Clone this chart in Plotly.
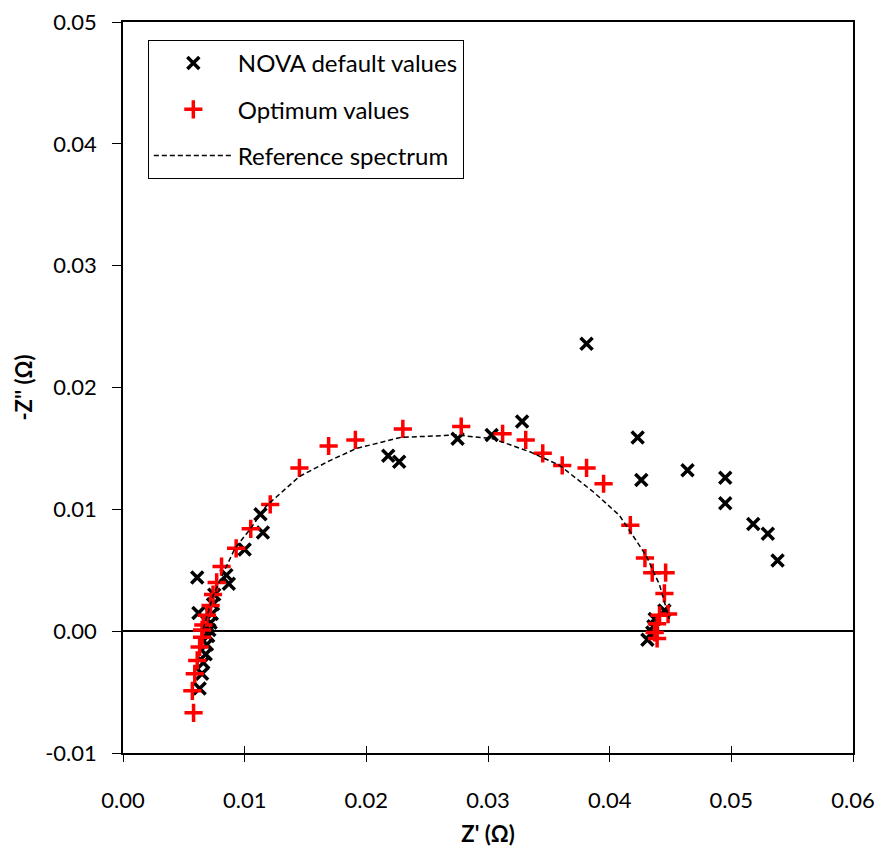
import plotly.graph_objects as go

# NOVA default values (black x)
nova_x = [0.0061, 0.0085, 0.0087, 0.0100, 0.0115, 0.0113, 0.0218, 0.0227, 0.0275, 0.0303,
          0.0328, 0.0381, 0.0423, 0.0426, 0.0464, 0.0495, 0.0495, 0.0518, 0.0530, 0.0538,
          0.0062, 0.0075, 0.0074, 0.0073, 0.0072, 0.0071, 0.0070, 0.0069, 0.0068, 0.0066,
          0.0065, 0.0063,
          0.0445, 0.0437, 0.0436, 0.0435, 0.0431]
nova_y = [0.0044, 0.0046, 0.0039, 0.0067, 0.0081, 0.0096, 0.0144, 0.0139, 0.0158, 0.0161,
          0.0172, 0.0236, 0.0159, 0.0124, 0.0132, 0.0126, 0.0105, 0.0088, 0.0080, 0.0058,
          0.0015, 0.0030, 0.0022, 0.0014, 0.0007, 0.0001, -0.0004, -0.0011, -0.0019, -0.0026,
          -0.0035, -0.0047,
          0.0017, 0.0010, 0.0004, -0.0001, -0.0007]

# Optimum values (red +)
opt_x = [0.0058, 0.0057, 0.0059, 0.0061, 0.0063, 0.0065, 0.0065, 0.0066, 0.0069, 0.0072,
         0.0074, 0.0077, 0.0081, 0.0093, 0.0105, 0.0121, 0.0145, 0.0169, 0.0191, 0.0230,
         0.0278, 0.0312, 0.0331, 0.0345, 0.0361, 0.0381, 0.0395, 0.0417, 0.0429, 0.0435,
         0.0446, 0.0445, 0.0441, 0.0448, 0.0439, 0.0437, 0.0439]
opt_y = [-0.0067, -0.0049, -0.0035, -0.0024, -0.0013, -0.0005, 0.0001, 0.0005, 0.0013, 0.0021,
         0.0030, 0.0040, 0.0053, 0.0068, 0.0084, 0.0104, 0.0134, 0.0152, 0.0157, 0.0166,
         0.0168, 0.0162, 0.0157, 0.0146, 0.0136, 0.0134, 0.0121, 0.0087, 0.0060, 0.0048,
         0.0048, 0.0031, 0.0013, 0.0014, 0.0006, -0.0001, -0.0006]

# Reference spectrum (dashed line)
ref_x = [0.0066, 0.0069, 0.0074, 0.0084, 0.0092, 0.0104, 0.0118, 0.0145, 0.0170, 0.0192,
         0.0228, 0.0274, 0.0304, 0.0335, 0.0359, 0.0387, 0.0408, 0.0430, 0.0441, 0.0449]
ref_y = [0.0002, 0.0013, 0.0029, 0.0051, 0.0068, 0.0083, 0.0103, 0.0127, 0.0140, 0.0150,
         0.0159, 0.0161, 0.0158, 0.0147, 0.0136, 0.0114, 0.0095, 0.0062, 0.0038, 0.0010]

x_ticks = [0.00, 0.01, 0.02, 0.03, 0.04, 0.05, 0.06]
x_labels = ["0.00", "0.01", "0.02", "0.03", "0.04", "0.05", "0.06"]
y_ticks = [-0.01, 0.00, 0.01, 0.02, 0.03, 0.04, 0.05]
y_labels = ["-0.01", "0.00", "0.01", "0.02", "0.03", "0.04", "0.05"]

FONT = "Lato"

fig = go.Figure()
fig.add_trace(go.Scatter(
    x=nova_x, y=nova_y, mode="markers", name="NOVA default values", legendgroup="a",
    marker=dict(symbol="x-thin", size=12, line=dict(width=3.5, color="black"), color="black")))
fig.add_trace(go.Scatter(
    x=opt_x, y=opt_y, mode="markers", name="Optimum values", legendgroup="b",
    marker=dict(symbol="cross-thin", size=13, line=dict(width=3.5, color="#ff0000"), color="#ff0000")))
fig.add_trace(go.Scatter(
    x=ref_x, y=ref_y, mode="lines", name="Reference spectrum", legendgroup="c",
    line=dict(color="black", width=1.5, dash="5px,3px")))
# invisible trace for crossing ticks on x axis
fig.add_trace(go.Scatter(x=[0.0], y=[0.0], xaxis="x2", mode="markers",
                         marker=dict(opacity=0), showlegend=False, hoverinfo="skip"))

fig.update_layout(
    width=875, height=844,
    margin=dict(l=115, r=30, t=14, b=99),
    paper_bgcolor="white", plot_bgcolor="white",
    font=dict(family=FONT, size=22, color="black"),
    showlegend=True,
    legend=dict(x=0.034, y=0.9754, xanchor="left", yanchor="top",
                bordercolor="black", borderwidth=1, bgcolor="white",
                font=dict(family=FONT, size=24), tracegroupgap=12,
                itemwidth=79),
    xaxis=dict(range=[0, 0.06], tickvals=x_ticks, ticktext=x_labels, automargin=False,
               showline=True, linecolor="black", linewidth=1.5, mirror=True,
               ticks="outside", ticklen=7, tickcolor="black", tickwidth=1,
               showgrid=False, zeroline=False, ticklabelstandoff=20,
               ticklabeloverflow="allow",
               title=dict(text="<b>Z' (Ω)</b>", font=dict(family=FONT, size=22), standoff=14)),
    xaxis2=dict(range=[0, 0.06], tickvals=x_ticks, overlaying="x", side="bottom", anchor="y",
                ticks="inside", ticklen=7, tickcolor="black", tickwidth=1, automargin=False,
                showticklabels=False, showgrid=False, zeroline=False, showline=False),
    yaxis=dict(range=[-0.01, 0.05], tickvals=y_ticks, ticktext=y_labels, automargin=False,
               showline=True, linecolor="black", linewidth=1.5, mirror=True,
               ticks="outside", ticklen=9, tickcolor="black", tickwidth=1,
               showgrid=False, zeroline=True, zerolinecolor="black", zerolinewidth=1.5,
               ticklabelstandoff=11, ticklabeloverflow="allow",
               title=dict(text="<b>-Z'' (Ω)</b>", font=dict(family=FONT, size=22), standoff=6)),
)

fig.write_html("out.html")
